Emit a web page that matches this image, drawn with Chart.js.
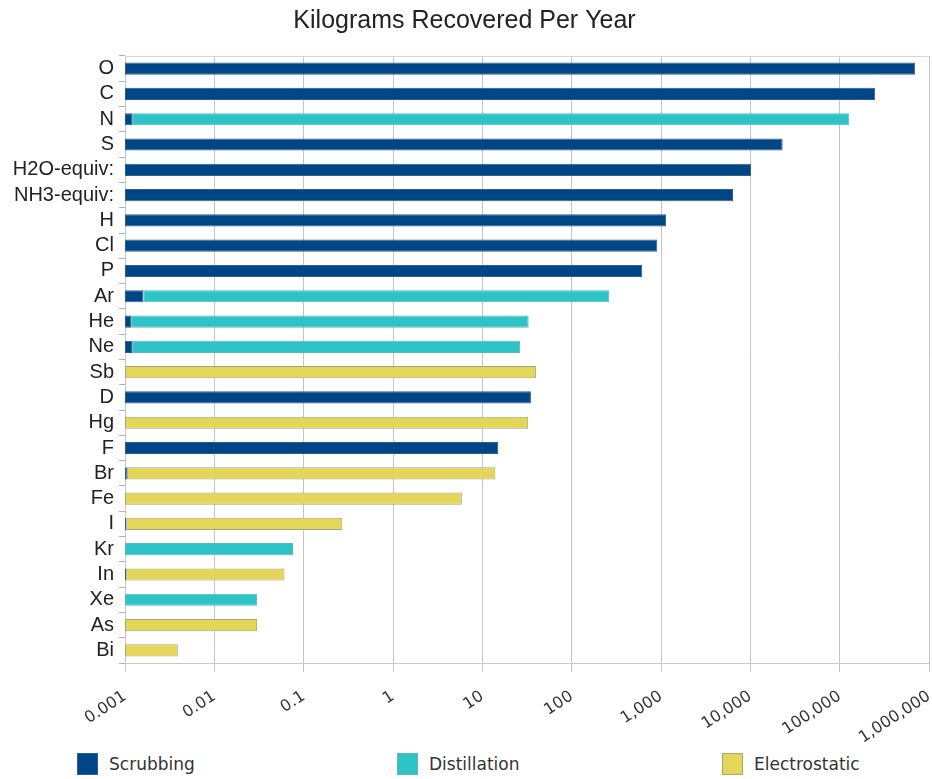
<!DOCTYPE html>
<html>
<head>
<meta charset="utf-8">
<script src="https://cdn.jsdelivr.net/npm/chart.js@4/dist/chart.umd.min.js"></script>
<style>
    body { margin: 0; background: #fff; }
    #wrap { position: relative; width: 932px; height: 779px; }
    #chartBox { position: absolute; left: 0; top: 0; width: 932px; height: 752px; }
    .legend-item { position: absolute; top: 753px; height: 22px; display: flex; align-items: center;
        font-family: 'DejaVu Sans', sans-serif; font-size: 17px; color: #333; }
    .legend-item span.box { display: inline-block; width: 21px; height: 22px; margin-right: 11px; box-sizing: border-box; }
</style>
</head>
<body>
<div id="wrap">
    <div id="chartBox"><canvas id="recoveryChart"></canvas></div>
    <div id="legend"></div>
</div>
<script>
// Datos del gráfico
const categories = ['O', 'C', 'N', 'S', 'H2O-equiv:', 'NH3-equiv:', 'H', 'Cl', 'P', 'Ar', 'He', 'Ne',
    'Sb', 'D', 'Hg', 'F', 'Br', 'Fe', 'I', 'Kr', 'In', 'Xe', 'As', 'Bi'];

const scrubbing = [700000, 250000, 0.0012, 23000, 10200, 6400, 1140, 910, 615, 0.0016, 0.00117, 0.0012,
    null, 35, null, 15, 0.00105, null, 0.00104, null, 0.00103, null, null, null];

const distillation = [null, null, 128000, null, null, null, null, null, null, 263, 33, 26.5,
    null, null, null, null, null, null, null, 0.076, null, 0.030, null, null];

const electrostatic = [null, null, null, null, null, null, null, null, null, null, null, null,
    40, null, 32.6, null, 14, 5.9, 0.27, null, 0.06, null, 0.030, 0.0039];

const tickValues = [0.001, 0.01, 0.1, 1, 10, 100, 1000, 10000, 100000, 1000000];
const tickLabels = ['0.001', '0.01', '0.1', '1', '10', '100', '1,000', '10,000', '100,000', '1,000,000'];

const seriesNames = ['Scrubbing', 'Distillation', 'Electrostatic'];
const seriesColors = ['#004586', '#2ec3c6', '#e3d658'];
const seriesBorders = ['#2a5f96', '#5bb9bb', '#a8a678'];

// Borde superior del área de trazado
const frameBorder = {
    id: 'frameBorder',
    beforeDatasetsDraw(chart) {
        const { ctx, chartArea } = chart;
        ctx.save();
        ctx.strokeStyle = '#d6d6d6';
        ctx.lineWidth = 1;
        ctx.beginPath();
        ctx.moveTo(chartArea.left, chartArea.top + 0.5);
        ctx.lineTo(chartArea.right, chartArea.top + 0.5);
        ctx.stroke();
        ctx.restore();
    }
};

function buildLegend() {
    const lefts = [77, 397, 722];
    const legend = document.getElementById('legend');
    seriesNames.forEach((name, i) => {
        const item = document.createElement('div');
        item.className = 'legend-item';
        item.style.left = lefts[i] + 'px';
        item.innerHTML = `<span class="box" style="background:${seriesColors[i]};border:1px solid ${seriesBorders[i]}"></span>${name}`;
        legend.appendChild(item);
    });
}

function initializeChart() {
    const ctx = document.getElementById('recoveryChart').getContext('2d');
    const dataSets = [scrubbing, distillation, electrostatic];

    new Chart(ctx, {
        type: 'bar',
        data: {
            labels: categories,
            datasets: dataSets.map((d, i) => ({
                label: seriesNames[i],
                data: d,
                backgroundColor: seriesColors[i],
                borderColor: seriesBorders[i],
                borderWidth: 1,
                borderSkipped: false,
                barPercentage: 1,
                categoryPercentage: 0.48
            }))
        },
        options: {
            indexAxis: 'y',
            responsive: true,
            maintainAspectRatio: false,
            animation: false,
            layout: { padding: { left: 0, right: 3, top: 0, bottom: 0 } },
            scales: {
                x: {
                    type: 'logarithmic',
                    stacked: true,
                    min: 0.001,
                    max: 1000000,
                    afterBuildTicks: scale => { scale.ticks = tickValues.map(v => ({ value: v })); },
                    afterFit: scale => { scale.height = 89; scale.paddingRight = 0; scale.paddingLeft = 0; },
                    grid: { color: '#c4c4c4', tickLength: 9 },
                    border: { color: '#c8c8c8' },
                    ticks: {
                        autoSkip: false,
                        minRotation: 33,
                        maxRotation: 33,
                        padding: 15,
                        color: '#333',
                        font: { family: "'DejaVu Sans', sans-serif", size: 16 },
                        callback: (value, index) => tickLabels[index]
                    }
                },
                y: {
                    stacked: true,
                    afterFit: scale => { scale.width = 125; },
                    grid: { drawOnChartArea: false, tickLength: 6, color: '#b0b0b0' },
                    border: { color: '#c8c8c8' },
                    ticks: {
                        autoSkip: false,
                        color: '#222',
                        padding: 5,
                        font: { family: "'Liberation Sans', sans-serif", size: 20 }
                    }
                }
            },
            plugins: {
                legend: { display: false },
                tooltip: { enabled: false },
                title: {
                    display: true,
                    text: 'Kilograms Recovered Per Year',
                    color: '#222',
                    font: { family: "'Liberation Sans', sans-serif", size: 25, weight: 'normal' },
                    padding: { top: 6, bottom: 20 }
                }
            }
        },
        plugins: [frameBorder]
    });
}

document.addEventListener('DOMContentLoaded', function () {
    initializeChart();
    buildLegend();
});
</script>
</body>
</html>
